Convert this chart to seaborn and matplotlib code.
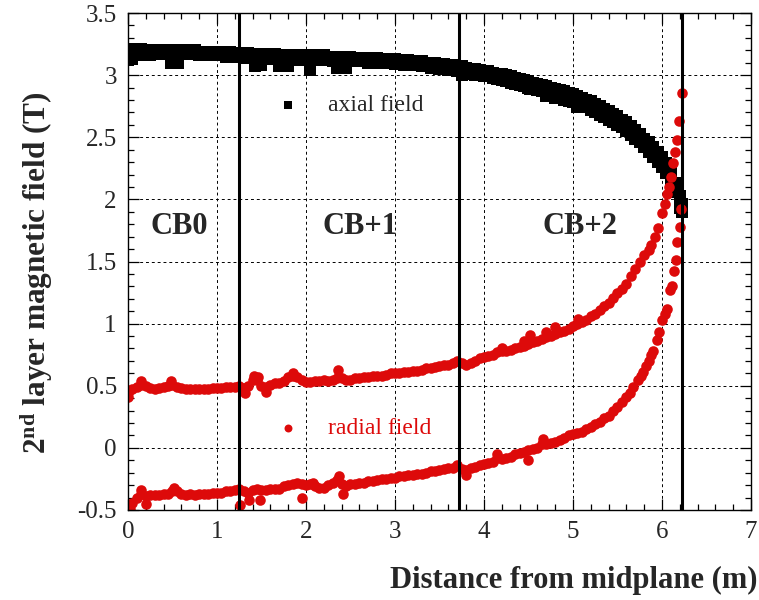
import numpy as np
import pandas as pd
import matplotlib
matplotlib.use("Agg")
import matplotlib.pyplot as plt
from matplotlib.ticker import MultipleLocator, FuncFormatter
import seaborn as sns

# ---------- DATA ----------
# axial field: two rows of squares, 0.05 m step from 0 to 6.0 m, then a short tail
axial_x_base = np.round(np.arange(0.0, 6.001, 0.05), 2)
axial_x_tail = [6.05, 6.10, 6.15, 6.20, 6.22]
axial_hi = [3.20, 3.21, 3.21, 3.21, 3.20, 3.20, 3.20, 3.20, 3.20, 3.20,
            3.20, 3.20, 3.20, 3.20, 3.20, 3.20, 3.19, 3.19, 3.19, 3.19,
            3.19, 3.19, 3.19, 3.19, 3.18, 3.18, 3.18, 3.18, 3.17, 3.17,
            3.17, 3.17, 3.17, 3.17, 3.16, 3.16, 3.16, 3.16, 3.16, 3.16,
            3.16, 3.16, 3.16, 3.16, 3.16, 3.15, 3.15, 3.15, 3.15, 3.15,
            3.15, 3.14, 3.14, 3.14, 3.14, 3.14, 3.14, 3.13, 3.13, 3.13,
            3.13, 3.12, 3.12, 3.12, 3.11, 3.11, 3.11, 3.10, 3.10, 3.10,
            3.09, 3.09, 3.08, 3.08, 3.07, 3.07, 3.06, 3.05, 3.05, 3.04,
            3.03, 3.03, 3.02, 3.01, 3.01, 3.00, 2.99, 2.98, 2.97, 2.96,
            2.95, 2.94, 2.93, 2.92, 2.91, 2.90, 2.89, 2.88, 2.87, 2.86,
            2.85, 2.83, 2.82, 2.80, 2.79, 2.77, 2.75, 2.73, 2.71, 2.69,
            2.67, 2.64, 2.62, 2.59, 2.56, 2.53, 2.49, 2.46, 2.42, 2.38,
            2.34,
            2.29, 2.23, 2.13, 2.03, 1.96]
axial_lo = [3.15, 3.15, 3.16, 3.16, 3.16, 3.16, 3.17, 3.17, 3.17, 3.17,
            3.17, 3.17, 3.17, 3.17, 3.17, 3.17, 3.16, 3.16, 3.16, 3.16,
            3.16, 3.16, 3.15, 3.15, 3.15, 3.15, 3.14, 3.14, 3.14, 3.14,
            3.13, 3.13, 3.13, 3.13, 3.13, 3.13, 3.12, 3.12, 3.12, 3.12,
            3.12, 3.12, 3.12, 3.12, 3.12, 3.12, 3.11, 3.11, 3.11, 3.11,
            3.11, 3.11, 3.11, 3.11, 3.10, 3.10, 3.10, 3.10, 3.10, 3.10,
            3.09, 3.09, 3.08, 3.08, 3.08, 3.08, 3.07, 3.07, 3.06, 3.06,
            3.05, 3.05, 3.04, 3.04, 3.03, 3.03, 3.02, 3.01, 3.00, 3.00,
            2.99, 2.99, 2.98, 2.97, 2.96, 2.95, 2.94, 2.93, 2.92, 2.91,
            2.90, 2.89, 2.88, 2.87, 2.85, 2.84, 2.83, 2.82, 2.80, 2.79,
            2.78, 2.77, 2.75, 2.74, 2.72, 2.70, 2.68, 2.66, 2.64, 2.62,
            2.60, 2.58, 2.55, 2.52, 2.49, 2.46, 2.42, 2.38, 2.34, 2.30,
            2.26,
            2.21, 2.16, 2.06, 1.93, 1.90]
axial_dip_x = [0.00, 0.04, 0.48, 0.56, 1.43, 1.50, 1.70, 1.80, 2.05, 2.35,
               2.45, 3.75, 4.20, 4.52, 4.70, 4.80, 5.05]
axial_dip_y = [3.12, 3.13, 3.10, 3.10, 3.07, 3.08, 3.07, 3.07, 3.04, 3.06,
               3.06, 3.00, 2.97, 2.89, 2.83, 2.82, 2.74]

# radial field: two branches, 0.05 m step from 0 to 5.5 m, then steep tails
rad_x_base = np.round(np.arange(0.0, 5.501, 0.05), 2)
rad_hi = [0.44, 0.47, 0.49, 0.51, 0.50, 0.48, 0.47, 0.48, 0.49, 0.50,
          0.51, 0.49, 0.48, 0.47, 0.47, 0.47, 0.47, 0.47, 0.47, 0.48,
          0.48, 0.48, 0.49, 0.49, 0.49, 0.50, 0.48, 0.50, 0.55, 0.55,
          0.50, 0.49, 0.51, 0.52, 0.52, 0.54, 0.57, 0.58, 0.57, 0.55,
          0.53, 0.53, 0.54, 0.54, 0.55, 0.54, 0.55, 0.56, 0.56, 0.55,
          0.55, 0.56, 0.56, 0.57, 0.57, 0.58, 0.58, 0.58, 0.59, 0.60,
          0.60, 0.60, 0.61, 0.61, 0.62, 0.62, 0.63, 0.64, 0.64, 0.65,
          0.66, 0.67, 0.67, 0.68, 0.70, 0.68, 0.67, 0.68, 0.70, 0.72,
          0.73, 0.74, 0.75, 0.77, 0.78, 0.78, 0.79, 0.80, 0.81, 0.82,
          0.84, 0.85, 0.86, 0.88, 0.89, 0.90, 0.92, 0.93, 0.94, 0.96,
          0.98, 1.00, 1.01, 1.03, 1.06, 1.08, 1.11, 1.14, 1.17, 1.21,
          1.25]
rad_hi_tail_x = [5.55, 5.60, 5.65, 5.70, 5.75, 5.80, 5.85, 5.88, 5.92, 5.96,
                 6.00, 6.03, 6.06, 6.08, 6.10, 6.12, 6.15, 6.17, 6.19, 6.22]
rad_hi_tail_y = [1.28, 1.32, 1.38, 1.44, 1.50, 1.55, 1.59, 1.63, 1.70, 1.77,
                 1.89, 1.96, 2.04, 2.10, 2.18, 2.29, 2.38, 2.48, 2.63, 2.86]
rad_hi_out_x = [0.00, 0.15, 0.48, 1.32, 1.42, 1.46, 1.55, 1.85, 2.36, 4.20,
                4.45, 4.52, 4.70, 4.80, 5.06]
rad_hi_out_y = [0.41, 0.54, 0.54, 0.44, 0.58, 0.57, 0.45, 0.60, 0.63, 0.80,
                0.86, 0.91, 0.93, 0.97, 1.04]

rad_lo = [-0.47, -0.44, -0.40, -0.37, -0.39, -0.38, -0.38, -0.38, -0.37, -0.37,
          -0.35, -0.35, -0.37, -0.38, -0.37, -0.38, -0.37, -0.37, -0.37, -0.36,
          -0.36, -0.36, -0.35, -0.35, -0.34, -0.33, -0.35, -0.36, -0.34, -0.33,
          -0.34, -0.34, -0.33, -0.33, -0.33, -0.31, -0.30, -0.29, -0.28, -0.29,
          -0.30, -0.29, -0.31, -0.32, -0.32, -0.30, -0.28, -0.26, -0.29, -0.31,
          -0.29, -0.29, -0.28, -0.28, -0.27, -0.27, -0.26, -0.25, -0.25, -0.24,
          -0.24, -0.23, -0.23, -0.22, -0.22, -0.21, -0.21, -0.20, -0.19, -0.19,
          -0.18, -0.17, -0.16, -0.16, -0.14, -0.17, -0.18, -0.16, -0.15, -0.14,
          -0.13, -0.12, -0.11, -0.08, -0.09, -0.08, -0.07, -0.05, -0.04, -0.03,
          -0.02, -0.01, 0.00, 0.03, 0.03, 0.04, 0.05, 0.06, 0.08, 0.10,
          0.11, 0.12, 0.13, 0.15, 0.17, 0.19, 0.21, 0.24, 0.26, 0.30,
          0.33]
rad_lo_tail_x = [5.55, 5.60, 5.64, 5.68, 5.73, 5.76, 5.79, 5.82, 5.85, 5.88,
                 5.90, 5.94, 5.97, 6.00, 6.03, 6.06, 6.09, 6.11, 6.13, 6.16,
                 6.17, 6.20, 6.21]
rad_lo_tail_y = [0.37, 0.41, 0.44, 0.49, 0.55, 0.58, 0.61, 0.66, 0.70, 0.75,
                 0.78, 0.87, 0.93, 1.03, 1.08, 1.12, 1.27, 1.30, 1.42, 1.51,
                 1.66, 1.78, 1.92]
rad_lo_out_x = [0.02, 0.15, 0.20, 0.52, 1.26, 1.36, 1.48, 1.96, 2.08, 2.37,
                2.42, 3.80, 4.15, 4.50, 4.66]
rad_lo_out_y = [-0.49, -0.34, -0.45, -0.32, -0.46, -0.42, -0.42, -0.40, -0.28, -0.23,
                -0.37, -0.22, -0.05, -0.10, 0.07]

# cryostat block boundaries and names
boundaries = [1.25, 3.72, 6.22]
block_names = ["CB0", "CB+1", "CB+2"]
block_pos = [0.58, 2.61, 5.08]
block_y = 1.78

RED = "#dd0a0a"

axial = pd.DataFrame({
    "x": list(axial_x_base) + axial_x_tail + list(axial_x_base) + axial_x_tail + axial_dip_x,
    "B": axial_hi + axial_lo + axial_dip_y,
})
radial = pd.DataFrame({
    "x": list(rad_x_base) + rad_hi_tail_x + rad_hi_out_x
         + list(rad_x_base) + rad_lo_tail_x + rad_lo_out_x,
    "B": rad_hi + rad_hi_tail_y + rad_hi_out_y + rad_lo + rad_lo_tail_y + rad_lo_out_y,
})

# ---------- STYLE ----------
sns.set_theme(style="ticks")
plt.rcParams["font.family"] = ["Liberation Serif", "DejaVu Serif"]
plt.rcParams["mathtext.fontset"] = "custom"
plt.rcParams["mathtext.rm"] = "Liberation Serif"
plt.rcParams["mathtext.bf"] = "Liberation Serif:bold"
plt.rcParams["axes.unicode_minus"] = False

fig = plt.figure(figsize=(7.59, 6.0), dpi=100)
ax = fig.add_axes([0.1686, 0.15, 0.8208, 0.8283])

sns.scatterplot(data=axial, x="x", y="B", ax=ax, marker="s", s=72, color="black",
                linewidth=0, label="axial field")
sns.scatterplot(data=radial, x="x", y="B", ax=ax, marker="o", s=58, color=RED,
                linewidth=0, label="radial field")

for xb in boundaries:
    ax.axvline(xb, color="black", lw=2.2, zorder=3)
for name, xp in zip(block_names, block_pos):
    ax.text(xp, block_y, name, ha="center", va="center", fontsize=22, fontweight="bold")

ax.set_xlim(0, 7)
ax.set_ylim(-0.5, 3.5)
ax.xaxis.set_major_locator(MultipleLocator(1))
ax.xaxis.set_minor_locator(MultipleLocator(0.2))
ax.yaxis.set_major_locator(MultipleLocator(0.5))
ax.yaxis.set_minor_locator(MultipleLocator(0.1))
ax.yaxis.set_major_formatter(FuncFormatter(lambda v, p: "%g" % v))
ax.tick_params(which="both", direction="in", top=True, right=True, color="black",
               labelsize=18, width=0.9)
ax.tick_params(which="major", length=8, pad=8)
ax.tick_params(which="minor", length=4.5)
ax.grid(which="major", color="black", linestyle=(0, (3, 3)), linewidth=0.7)
for sp in ax.spines.values():
    sp.set_color("black")
    sp.set_linewidth(1.0)

ax.set_xlabel("Distance from midplane (m)", fontsize=22, fontweight="bold", loc="right")
ax.xaxis.set_label_coords(1.01, -0.113)
ax.set_ylabel(r"$\mathbf{2^{nd}}$ layer magnetic field (T)", fontsize=22.5,
              fontweight="bold")
ax.yaxis.set_label_coords(-0.117, 0.477)

# two separate legend entries, as in the reference
handles, labels = ax.get_legend_handles_labels()
ax.get_legend().remove()
leg1 = ax.legend(handles[:1], labels[:1], loc="center left", bbox_to_anchor=(0.2385, 0.815),
                 frameon=False, fontsize=17, handlelength=1.0, handletextpad=1.2,
                 borderpad=0, borderaxespad=0, markerscale=0.7)
ax.add_artist(leg1)
leg2 = ax.legend(handles[1:], labels[1:], loc="center left", bbox_to_anchor=(0.2385, 0.165),
                 frameon=False, fontsize=17, handlelength=1.0, handletextpad=1.2,
                 borderpad=0, borderaxespad=0, labelcolor=RED, markerscale=0.75)

fig.savefig("out.png", dpi=100)
